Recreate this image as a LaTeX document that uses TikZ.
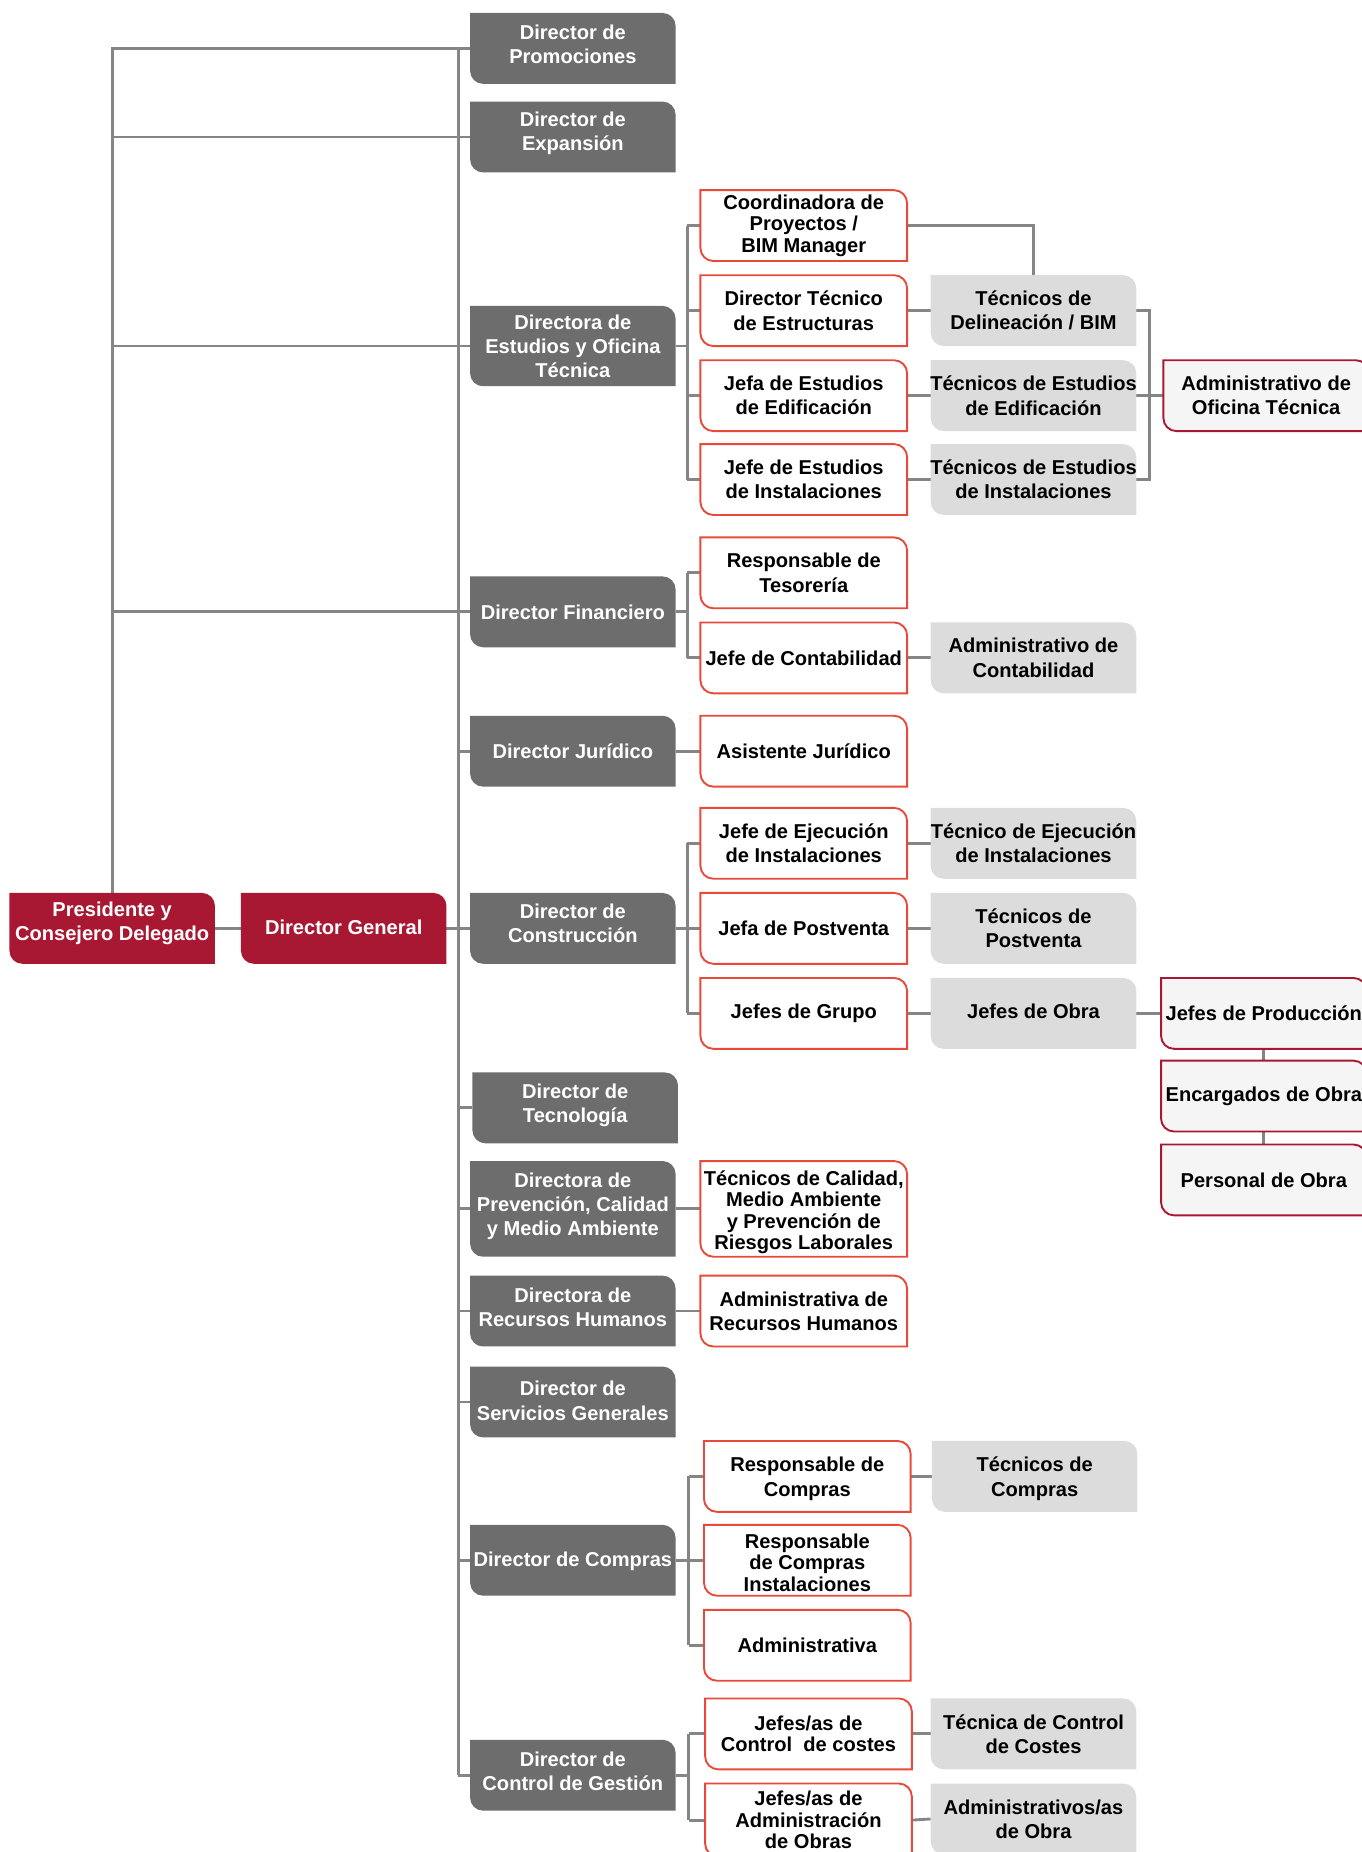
\documentclass[tikz,border=0pt]{standalone}
\usepackage{fontspec}
\setmainfont{Liberation Sans}
\usetikzlibrary{calc}
\definecolor{dkgray}{HTML}{6D6D6D}
\definecolor{ltgray}{HTML}{DCDCDC}
\definecolor{crimson}{HTML}{A91832}
\definecolor{outred}{HTML}{E8493A}
\definecolor{paper}{HTML}{F5F5F5}
\definecolor{wire}{HTML}{858585}
\pgfdeclarelayer{background}
\pgfsetlayers{background,main}

% box kinds: fill/draw of the outline, and the text style
\tikzset{
  dk/.style={fill=dkgray},
  cr/.style={fill=crimson},
  lt/.style={fill=ltgray},
  wr/.style={fill=white, draw=outred, line width=1.6pt},
  pk/.style={fill=paper, draw=crimson, line width=1.6pt},
  lbl/.style={inner sep=0pt, align=center, font=\bfseries\fontsize{17}{20.5}\selectfont},
  whitetxt/.style={lbl, text=white},
  blacktxt/.style={lbl, text=black},
  tight/.style={font=\bfseries\fontsize{17}{18.2}\selectfont},
  frame/.style={inner sep=0pt, outer sep=0pt},
  wire/.style={draw=wire, line width=2.4pt}
}

% #1 kind, #2 text style, #3 name, #4 left, #5 top, #6 right, #7 bottom, #8 text
% top-right and bottom-left corners are rounded; the named node spans the box,
% the text sits in its own node (#3-t) so it can be nudged on its own
\newcommand\orgbox[8]{%
  \path[#1] (#4,#5) -- ({#6-11},#5) arc[start angle=90, end angle=0, radius=11pt]
    -- (#6,#7) -- ({#4+11},#7) arc[start angle=270, end angle=180, radius=11pt] -- cycle;
  \node[frame, minimum width={(#6-#4)*1pt}, minimum height={(#7-#5)*1pt}]
    (#3) at ({(#4+#6)/2},{(#5+#7)/2}) {};
  \node[#2] (#3-t) at (#3.center) {#8};
}

\begin{document}
\begin{tikzpicture}[x=1pt,y=-1pt]
\useasboundingbox (0,0) rectangle (1153,1568);
\clip (0,0) rectangle (1153,1568);

% top level
\orgbox{cr}{whitetxt,yshift=4pt}{pres}{8}{756}{182}{816}{Presidente y\\Consejero Delegado}
\orgbox{cr}{whitetxt,yshift=1pt}{dgen}{204}{756}{378}{816}{Director General}

% directors
\orgbox{dk}{whitetxt,yshift=3.5pt}{promo}{398}{11}{572}{71}{Director de\\Promociones}
\orgbox{dk}{whitetxt,yshift=3pt}{expa}{398}{86}{572}{146}{Director de\\Expansión}
\orgbox{dk}{whitetxt}{estu}{398}{259}{572}{327}{Directora de\\Estudios y Oficina\\Técnica}
\orgbox{dk}{whitetxt}{fina}{398}{488}{572}{548}{Director Financiero}
\orgbox{dk}{whitetxt}{juri}{398}{606}{572}{666}{Director Jurídico}
\orgbox{dk}{whitetxt,yshift=4pt}{cons}{398}{756}{572}{816}{Director de\\Construcción}
\orgbox{dk}{whitetxt,yshift=2pt}{tecn}{400}{908}{574}{968}{Director de\\Tecnología}
\orgbox{dk}{whitetxt,yshift=2pt}{prev}{398}{983}{572}{1064}{Directora de\\Prevención, Calidad\\y Medio Ambiente}
\orgbox{dk}{whitetxt,yshift=3pt}{rrhh}{398}{1080}{572}{1140}{Directora de\\Recursos Humanos}
\orgbox{dk}{whitetxt,yshift=1pt}{serv}{398}{1157}{572}{1217}{Director de\\Servicios Generales}
\orgbox{dk}{whitetxt,yshift=-1pt}{comp}{398}{1291}{572}{1351}{Director de Compras}
\orgbox{dk}{whitetxt,yshift=3pt}{ctrl}{398}{1473}{572}{1533}{Director de\\Control de Gestión}

% second level
\orgbox{wr}{blacktxt,tight}{coor}{593}{161}{768}{221}{Coordinadora de\\Proyectos /\\BIM Manager}
\orgbox{wr}{blacktxt}{dtec}{593}{233}{768}{293}{Director Técnico\\de Estructuras}
\orgbox{wr}{blacktxt}{jfed}{593}{305}{768}{365}{Jefa de Estudios\\de Edificación}
\orgbox{wr}{blacktxt}{jfin}{593}{376}{768}{436}{Jefe de Estudios\\de Instalaciones}
\orgbox{wr}{blacktxt}{teso}{593}{455}{768}{515}{Responsable de\\Tesorería}
\orgbox{wr}{blacktxt}{cont}{593}{527}{768}{587}{Jefe de Contabilidad}
\orgbox{wr}{blacktxt}{asis}{593}{606}{768}{666}{Asistente Jurídico}
\orgbox{wr}{blacktxt}{jeje}{593}{684}{768}{744}{Jefe de Ejecución\\de Instalaciones}
\orgbox{wr}{blacktxt}{jpos}{593}{756}{768}{816}{Jefa de Postventa}
\orgbox{wr}{blacktxt}{jgru}{593}{828}{768}{888}{Jefes de Grupo}
\orgbox{wr}{blacktxt,tight,yshift=-3pt}{tcal}{593}{983}{768}{1064}{Técnicos de Calidad,\\Medio Ambiente\\y Prevención de\\Riesgos Laborales}
\orgbox{wr}{blacktxt}{arrh}{593}{1080}{768}{1140}{Administrativa de\\Recursos Humanos}
\orgbox{wr}{blacktxt,yshift=-2pt}{rcom}{596}{1220}{771}{1280}{Responsable de\\Compras}
\orgbox{wr}{blacktxt,tight,yshift=-2pt}{rcin}{596}{1291}{771}{1351}{Responsable\\de Compras\\Instalaciones}
\orgbox{wr}{blacktxt}{admv}{596}{1363}{771}{1423}{Administrativa}
\orgbox{wr}{blacktxt,tight}{jccs}{597}{1438}{772}{1498}{Jefes/as de\\Control\ \ de costes}
\orgbox{wr}{blacktxt,tight}{jado}{597}{1510}{772}{1572}{Jefes/as de\\Administración\\de Obras}

% third level
\orgbox{lt}{blacktxt}{tdel}{788}{233}{962}{293}{Técnicos de\\Delineación / BIM}
\orgbox{lt}{blacktxt}{tedi}{788}{305}{962}{365}{Técnicos de Estudios\\de Edificación}
\orgbox{lt}{blacktxt}{tins}{788}{376}{962}{436}{Técnicos de Estudios\\de Instalaciones}
\orgbox{lt}{blacktxt}{acon}{788}{527}{962}{587}{Administrativo de\\Contabilidad}
\orgbox{lt}{blacktxt}{teje}{788}{684}{962}{744}{Técnico de Ejecución\\de Instalaciones}
\orgbox{lt}{blacktxt}{tpos}{788}{756}{962}{816}{Técnicos de\\Postventa}
\orgbox{lt}{blacktxt,yshift=2pt}{jobr}{788}{828}{962}{888}{Jefes de Obra}
\orgbox{lt}{blacktxt,yshift=-2pt}{tcom}{789}{1220}{963}{1280}{Técnicos de\\Compras}
\orgbox{lt}{blacktxt}{tccs}{788}{1438}{962}{1498}{Técnica de Control\\de Costes}
\orgbox{lt}{blacktxt}{aobr}{788}{1510}{962}{1570}{Administrativos/as\\de Obra}

% fourth level
\orgbox{pk}{blacktxt}{aofi}{985}{305}{1159}{365}{Administrativo de\\Oficina Técnica}
\orgbox{pk}{blacktxt}{jpro}{983}{828}{1157}{888}{Jefes de Producción}
\orgbox{pk}{blacktxt}{enca}{983}{898}{1157}{958}{Encargados de Obra}
\orgbox{pk}{blacktxt}{pers}{983}{969}{1157}{1029}{Personal de Obra}

% connectors
\coordinate (tk) at (388,0);
\coordinate (bE) at (582,0);
\coordinate (bF) at (582,0);
\coordinate (bC) at (582,0);
\coordinate (bP) at (583,0);
\coordinate (bG) at (583,0);
\coordinate (bO) at (973,0);
\begin{pgfonlayer}{background}
  % president to the directors reporting to him
  \draw[wire] (pres.north) |- (promo.west);
  \draw[wire] (pres.north |- expa.west) -- (expa.west);
  \draw[wire] (pres.north |- estu.west) -- (estu.west);
  \draw[wire] (pres.north |- fina.west) -- (fina.west);
  \draw[wire] (pres.east) -- (dgen.west);
  % general director trunk
  \draw[wire] (dgen.east) -- (tk |- dgen.east);
  \draw[wire] (tk |- promo.west) -- (tk |- ctrl.west);
  \foreach \n in {juri,cons,tecn,prev,rrhh,serv,comp,ctrl}
    \draw[wire] (tk |- \n.west) -- (\n.west);
  % studies and technical office
  \draw[wire] (estu.east) -- (bE |- estu.east);
  \draw[wire] (bE |- coor.west) -- (bE |- jfin.west);
  \foreach \n in {coor,dtec,jfed,jfin}
    \draw[wire] (bE |- \n.west) -- (\n.west);
  \draw[wire] (coor.east) -| (tdel.north);
  \draw[wire] (dtec.east) -- (tdel.west);
  \draw[wire] (jfed.east) -- (tedi.west);
  \draw[wire] (jfin.east) -- (tins.west);
  \draw[wire] (tdel.east) -| (bO |- tins.east) -- (tins.east);
  \draw[wire] (tedi.east) -- (aofi.west);
  % finance
  \draw[wire] (fina.east) -- (bF |- fina.east);
  \draw[wire] (bF |- teso.west) -- (bF |- cont.west);
  \foreach \n in {teso,cont}
    \draw[wire] (bF |- \n.west) -- (\n.west);
  \draw[wire] (cont.east) -- (acon.west);
  % legal
  \draw[wire] (juri.east) -- (asis.west);
  % construction
  \draw[wire] (cons.east) -- (bC |- cons.east);
  \draw[wire] (bC |- jeje.west) -- (bC |- jgru.west);
  \foreach \n in {jeje,jpos,jgru}
    \draw[wire] (bC |- \n.west) -- (\n.west);
  \draw[wire] (jeje.east) -- (teje.west);
  \draw[wire] (jpos.east) -- (tpos.west);
  \draw[wire] (jgru.east) -- (jobr.west);
  \draw[wire] (jobr.east) -- (jpro.west);
  \draw[wire] (jpro.south) -- (enca.north);
  \draw[wire] (enca.south) -- (pers.north);
  % prevention and human resources
  \draw[wire] (prev.east) -- (tcal.west);
  \draw[wire] (rrhh.east) -- (arrh.west);
  % purchasing
  \draw[wire] (comp.east) -- (bP |- comp.east);
  \draw[wire] (bP |- rcom.west) -- (bP |- admv.west);
  \foreach \n in {rcom,rcin,admv}
    \draw[wire] (bP |- \n.west) -- (\n.west);
  \draw[wire] (rcom.east) -- (tcom.west);
  % management control
  \draw[wire] (ctrl.east) -- (bG |- ctrl.east);
  \draw[wire] (bG |- jccs.west) -- (bG |- jado.west);
  \foreach \n in {jccs,jado}
    \draw[wire] (bG |- \n.west) -- (\n.west);
  \draw[wire] (jccs.east) -- (tccs.west);
  \draw[wire] (jado.east) -- (aobr.west);
\end{pgfonlayer}
\end{tikzpicture}
\end{document}
